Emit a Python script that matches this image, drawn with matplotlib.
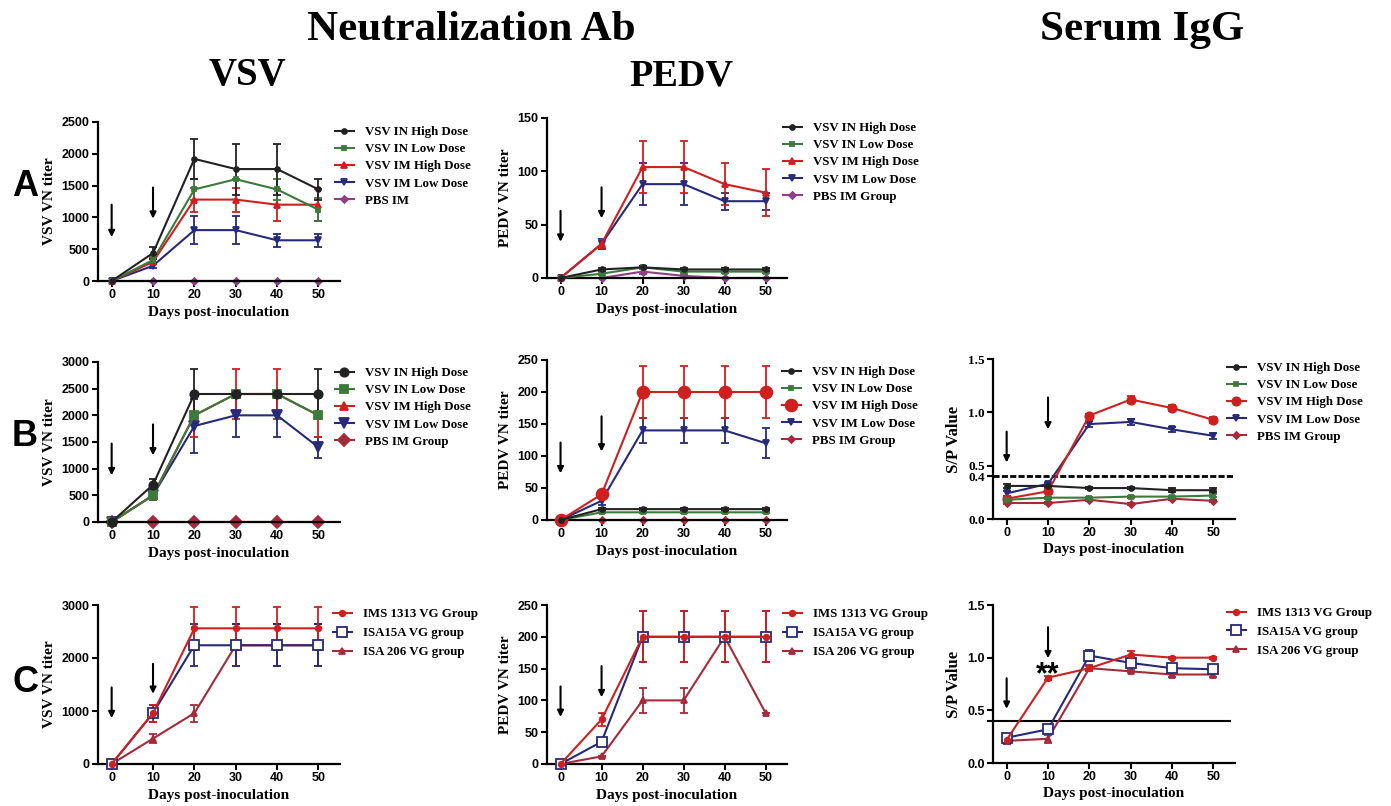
import matplotlib
matplotlib.use("Agg")
import matplotlib.pyplot as plt

W, H = 1391, 806
SERIF = "Liberation Serif"
SANS = "Liberation Sans"

days = [0, 10, 20, 30, 40, 50]

# ---------------- Row A : VSV VN titer ----------------
a_vsv_in_high = [0, 440, 1920, 1760, 1760, 1440]
a_vsv_in_high_err = [0, 100, 320, 400, 400, 160]
a_vsv_in_low = [0, 330, 1440, 1600, 1440, 1120]
a_vsv_in_low_err = [0, 40, 160, 0, 160, 180]
a_vsv_im_high = [0, 300, 1280, 1280, 1200, 1200]
a_vsv_im_high_err = [0, 40, 190, 190, 250, 250]
a_vsv_im_low = [0, 240, 800, 800, 640, 640]
a_vsv_im_low_err = [0, 40, 220, 220, 100, 100]
a_vsv_pbs = [0, 0, 0, 0, 0, 0]
a_vsv_pbs_err = [0, 0, 0, 0, 0, 0]

# ---------------- Row A : PEDV VN titer ----------------
a_pedv_in_high = [0, 8, 10, 8, 8, 8]
a_pedv_in_high_err = [0, 1, 1, 1, 1, 1]
a_pedv_in_low = [0, 4, 10, 6, 6, 6]
a_pedv_in_low_err = [0, 1, 1, 1, 1, 1]
a_pedv_im_high = [0, 32, 104, 104, 88, 80]
a_pedv_im_high_err = [0, 4, 24, 24, 20, 22]
a_pedv_im_low = [0, 32, 88, 88, 72, 72]
a_pedv_im_low_err = [0, 5, 20, 20, 8, 8]
a_pedv_pbs = [0, 0, 6, 2, 0, 0]
a_pedv_pbs_err = [0, 0, 2, 1, 0, 0]

# ---------------- Row B : VSV VN titer ----------------
b_vsv_in_high = [0, 700, 2400, 2400, 2400, 2400]
b_vsv_in_high_err = [0, 100, 460, 0, 0, 460]
b_vsv_in_low = [0, 500, 2000, 2400, 2400, 2000]
b_vsv_in_low_err = [0, 80, 0, 0, 0, 0]
b_vsv_im_high = [0, 500, 2000, 2400, 2400, 2000]
b_vsv_im_high_err = [0, 80, 400, 460, 460, 400]
b_vsv_im_low = [0, 500, 1800, 2000, 2000, 1400]
b_vsv_im_low_err = [0, 80, 500, 400, 400, 200]
b_vsv_pbs = [0, 0, 0, 0, 0, 0]
b_vsv_pbs_err = [0, 0, 0, 0, 0, 0]

# ---------------- Row B : PEDV VN titer ----------------
b_pedv_in_high = [0, 17, 17, 17, 17, 17]
b_pedv_in_high_err = [0, 1.5, 1.5, 1.5, 1.5, 1.5]
b_pedv_in_low = [0, 12, 12, 12, 12, 12]
b_pedv_in_low_err = [0, 1.5, 1.5, 1.5, 1.5, 1.5]
b_pedv_im_high = [0, 40, 200, 200, 200, 200]
b_pedv_im_high_err = [0, 2, 40, 40, 40, 40]
b_pedv_im_low = [0, 30, 140, 140, 140, 120]
b_pedv_im_low_err = [0, 6, 20, 20, 20, 23]
b_pedv_pbs = [0, 0, 0, 0, 0, 0]
b_pedv_pbs_err = [0, 0, 0, 0, 0, 0]

# ---------------- Row B : Serum IgG S/P ----------------
b_igg_in_high = [0.31, 0.31, 0.29, 0.29, 0.27, 0.27]
b_igg_in_high_err = [0.02, 0.01, 0.01, 0.01, 0.02, 0.02]
b_igg_in_low = [0.18, 0.20, 0.20, 0.21, 0.21, 0.22]
b_igg_in_low_err = [0.01, 0.01, 0.01, 0.01, 0.01, 0.01]
b_igg_im_high = [0.19, 0.26, 0.97, 1.12, 1.04, 0.93]
b_igg_im_high_err = [0.02, 0.02, 0.01, 0.03, 0.03, 0.03]
b_igg_im_low = [0.24, 0.33, 0.89, 0.91, 0.84, 0.78]
b_igg_im_low_err = [0.02, 0.01, 0.03, 0.03, 0.02, 0.03]
b_igg_pbs = [0.15, 0.15, 0.18, 0.14, 0.19, 0.17]
b_igg_pbs_err = [0.01, 0.01, 0.01, 0.01, 0.01, 0.01]

# ---------------- Row C : VSV VN titer ----------------
c_vsv_ims = [0, 960, 2560, 2560, 2560, 2560]
c_vsv_ims_err = [0, 160, 400, 400, 400, 400]
c_vsv_isa15a = [0, 960, 2240, 2240, 2240, 2240]
c_vsv_isa15a_err = [0, 160, 400, 400, 400, 400]
c_vsv_isa206 = [0, 480, 960, 2240, 2240, 2240]
c_vsv_isa206_err = [0, 80, 160, 400, 400, 400]

# ---------------- Row C : PEDV VN titer ----------------
c_pedv_ims = [0, 70, 200, 200, 200, 200]
c_pedv_ims_err = [0, 10, 40, 40, 40, 40]
c_pedv_isa15a = [0, 35, 200, 200, 200, 200]
c_pedv_isa15a_err = [0, 3, 40, 40, 0, 40]
c_pedv_isa206 = [0, 12, 100, 100, 200, 80]
c_pedv_isa206_err = [0, 1, 20, 20, 40, 0]

# ---------------- Row C : Serum IgG S/P ----------------
c_igg_ims = [0.22, 0.81, 0.90, 1.03, 1.00, 1.00]
c_igg_ims_err = [0.02, 0.02, 0.02, 0.03, 0.01, 0.01]
c_igg_isa15a = [0.24, 0.32, 1.02, 0.95, 0.90, 0.89]
c_igg_isa15a_err = [0.03, 0.01, 0.05, 0.01, 0.02, 0.02]
c_igg_isa206 = [0.21, 0.23, 0.90, 0.87, 0.84, 0.84]
c_igg_isa206_err = [0.03, 0.04, 0.03, 0.01, 0.02, 0.02]

labels_ab = ["VSV IN High Dose", "VSV IN Low Dose", "VSV IM High Dose",
             "VSV IM Low Dose"]
labels_c = ["IMS 1313 VG Group", "ISA15A VG group", "ISA 206 VG group"]

BLACK = "#222222"
GREEN = "#3c7a3c"
RED = "#d01f1f"
NAVY = "#262a78"
PURPLE = "#8e3f86"
CRIMSON = "#a52a3a"

fig = plt.figure(figsize=(W / 100, H / 100), dpi=100)


def px_axes(l, t, r, b):
    return fig.add_axes([l / W, 1 - b / H, (r - l) / W, (b - t) / H])


def style(ax, ymax, yticks, ylabel, ytick_font=SANS, yticklabels=None,
          ylabel_size=11):
    ax.set_xlim(-3.3, 55.2)
    ax.set_ylim(0, ymax)
    for s in ("top", "right"):
        ax.spines[s].set_visible(False)
    for s in ("left", "bottom"):
        ax.spines[s].set_linewidth(1.6)
        ax.spines[s].set_color("black")
    ax.set_xticks(days)
    ax.set_yticks(yticks)
    if yticklabels is not None:
        ax.set_yticklabels(yticklabels)
    ax.tick_params(direction="out", length=4, width=1.5, pad=2)
    for t in ax.get_xticklabels():
        t.set_fontfamily(SANS)
        t.set_fontweight("bold")
        t.set_fontsize(9)
    for t in ax.get_yticklabels():
        t.set_fontfamily(ytick_font)
        t.set_fontweight("bold")
        t.set_fontsize(9 if ytick_font == SANS else 9.5)
    ax.set_xlabel("Days post-inoculation", fontfamily=SERIF, fontweight="bold",
                  fontsize=11, labelpad=3)
    ax.set_ylabel(ylabel, fontfamily=SERIF, fontweight="bold",
                  fontsize=ylabel_size, labelpad=4)


def series(ax, y, err, color, marker, ms, label, mfc=None, z=3):
    c = ax.errorbar(days, y, yerr=err, color=color, marker=marker, ms=ms,
                    mfc=mfc if mfc else color, mec=color, mew=1.3, lw=1.5,
                    elinewidth=1.3, capsize=3.2, capthick=1.3,
                    zorder=z, clip_on=False)
    return (c.lines[0], label)


def arrows(ax, spec):
    for x, ytop, ytip in spec:
        ax.annotate("", xy=(x, ytip), xytext=(x, ytop),
                    arrowprops=dict(arrowstyle="-|>", lw=1.5, color="black",
                                    mutation_scale=9, shrinkA=0, shrinkB=0))


def legend(ax, entries, left, top, spacing=0.4):
    handles = [e[0] for e in entries]
    labels = [e[1] for e in entries]
    ax.legend(handles, labels, loc="upper left",
              bbox_to_anchor=(left / W, 1 - top / H),
              bbox_transform=fig.transFigure, frameon=False, borderpad=0,
              borderaxespad=0, handlelength=1.45, handletextpad=0.85,
              labelspacing=spacing,
              prop=dict(family=SERIF, weight="bold", size=9.3))


# ===== Row A VSV =====
ax = px_axes(98, 122, 340, 281)
e5 = series(ax, a_vsv_pbs, a_vsv_pbs_err, PURPLE, "D", 3.5, "PBS IM", z=2)
e4 = series(ax, a_vsv_im_low, a_vsv_im_low_err, NAVY, "v", 4, labels_ab[3])
e3 = series(ax, a_vsv_im_high, a_vsv_im_high_err, RED, "^", 4, labels_ab[2])
e2 = series(ax, a_vsv_in_low, a_vsv_in_low_err, GREEN, "s", 3.5, labels_ab[1])
e1 = series(ax, a_vsv_in_high, a_vsv_in_high_err, BLACK, "o", 3.5, labels_ab[0])
style(ax, 2500, [0, 500, 1000, 1500, 2000, 2500], "VSV VN titer")
arrows(ax, [(0, 1200, 690), (10, 1470, 980)])
legend(ax, [e1, e2, e3, e4, e5], 335, 126)

# ===== Row A PEDV =====
ax = px_axes(547, 118, 787, 278)
e5 = series(ax, a_pedv_pbs, a_pedv_pbs_err, PURPLE, "D", 3.5, "PBS IM Group", z=2)
e4 = series(ax, a_pedv_im_low, a_pedv_im_low_err, NAVY, "v", 4, labels_ab[3])
e3 = series(ax, a_pedv_im_high, a_pedv_im_high_err, RED, "^", 4, labels_ab[2])
e2 = series(ax, a_pedv_in_low, a_pedv_in_low_err, GREEN, "s", 3.5, labels_ab[1])
e1 = series(ax, a_pedv_in_high, a_pedv_in_high_err, BLACK, "o", 3.5, labels_ab[0])
style(ax, 150, [0, 50, 100, 150], "PEDV VN titer")
arrows(ax, [(0, 63, 34), (10, 85, 56)])
legend(ax, [e1, e2, e3, e4, e5], 783, 122)

# ===== Row B VSV =====
ax = px_axes(98, 362, 340, 522)
e5 = series(ax, b_vsv_pbs, b_vsv_pbs_err, CRIMSON, "D", 6, "PBS IM Group", z=2)
e4 = series(ax, b_vsv_im_low, b_vsv_im_low_err, NAVY, "v", 6.5, labels_ab[3])
e3 = series(ax, b_vsv_im_high, b_vsv_im_high_err, RED, "^", 6, labels_ab[2])
e2 = series(ax, b_vsv_in_low, b_vsv_in_low_err, GREEN, "s", 5.5, labels_ab[1])
e1 = series(ax, b_vsv_in_high, b_vsv_in_high_err, BLACK, "o", 6, labels_ab[0])
style(ax, 3000, [0, 500, 1000, 1500, 2000, 2500, 3000], "VSV VN titer")
arrows(ax, [(0, 1470, 875), (10, 1830, 1250)])
legend(ax, [e1, e2, e3, e4, e5], 335, 367)

# ===== Row B PEDV =====
ax = px_axes(547, 360, 787, 520)
e5 = series(ax, b_pedv_pbs, b_pedv_pbs_err, CRIMSON, "D", 3.5, "PBS IM Group", z=2)
e4 = series(ax, b_pedv_im_low, b_pedv_im_low_err, NAVY, "v", 4.5, labels_ab[3])
e3 = series(ax, b_pedv_im_high, b_pedv_im_high_err, RED, "o", 8.5, labels_ab[2])
e2 = series(ax, b_pedv_in_low, b_pedv_in_low_err, GREEN, "s", 3.5, labels_ab[1])
e1 = series(ax, b_pedv_in_high, b_pedv_in_high_err, BLACK, "o", 3.5, labels_ab[0])
style(ax, 250, [0, 50, 100, 150, 200, 250], "PEDV VN titer")
arrows(ax, [(0, 121, 73), (10, 162, 107)])
legend(ax, [e1, e2, e3, e4, e5], 782, 366)

# ===== Row B Serum IgG =====
ax = px_axes(993, 359, 1235, 519)
e5 = series(ax, b_igg_pbs, b_igg_pbs_err, CRIMSON, "D", 3.5, "PBS IM Group", z=2)
e4 = series(ax, b_igg_im_low, b_igg_im_low_err, NAVY, "v", 4.5, labels_ab[3])
e3 = series(ax, b_igg_im_high, b_igg_im_high_err, RED, "o", 6, labels_ab[2])
e2 = series(ax, b_igg_in_low, b_igg_in_low_err, GREEN, "s", 3.5, labels_ab[1])
e1 = series(ax, b_igg_in_high, b_igg_in_high_err, BLACK, "o", 3.5, labels_ab[0])
style(ax, 1.5, [0.0, 0.4, 0.5, 1.0, 1.5], "S/P Value", ytick_font=SERIF,
      yticklabels=["0.0", "0.4", "0.5", "1.0", "1.5"], ylabel_size=12)
ax.axhline(0.4, color="black", lw=2, ls=(0, (2.2, 0.8)), zorder=1)
arrows(ax, [(0, 0.82, 0.53), (10, 1.14, 0.84)])
legend(ax, [e1, e2, e3, e4, e5], 1227, 362)

# ===== Row C VSV =====
ax = px_axes(98, 605, 340, 764)
e3 = series(ax, c_vsv_isa206, c_vsv_isa206_err, CRIMSON, "^", 4, labels_c[2])
e2 = series(ax, c_vsv_isa15a, c_vsv_isa15a_err, NAVY, "s", 6.5, labels_c[1], mfc="white")
e1 = series(ax, c_vsv_ims, c_vsv_ims_err, RED, "o", 4, labels_c[0])
style(ax, 3000, [0, 1000, 2000, 3000], "VSV VN titer")
arrows(ax, [(0, 1444, 866), (10, 1890, 1325)])
legend(ax, [e1, e2, e3], 333, 608, spacing=0.55)

# ===== Row C PEDV =====
ax = px_axes(547, 605, 787, 764)
e3 = series(ax, c_pedv_isa206, c_pedv_isa206_err, CRIMSON, "^", 4, labels_c[2])
e2 = series(ax, c_pedv_isa15a, c_pedv_isa15a_err, NAVY, "s", 6.5, labels_c[1], mfc="white")
e1 = series(ax, c_pedv_ims, c_pedv_ims_err, RED, "o", 4, labels_c[0])
style(ax, 250, [0, 50, 100, 150, 200, 250], "PEDV VN titer")
arrows(ax, [(0, 122, 74), (10, 154, 105)])
legend(ax, [e1, e2, e3], 783, 608, spacing=0.55)

# ===== Row C Serum IgG =====
ax = px_axes(993, 605, 1235, 763)
e3 = series(ax, c_igg_isa206, c_igg_isa206_err, CRIMSON, "^", 4, labels_c[2])
e2 = series(ax, c_igg_isa15a, c_igg_isa15a_err, NAVY, "s", 6.5, labels_c[1], mfc="white")
e1 = series(ax, c_igg_ims, c_igg_ims_err, RED, "o", 4, labels_c[0])
style(ax, 1.5, [0.0, 0.5, 1.0, 1.5], "S/P Value",
      yticklabels=["0.0", "0.5", "1.0", "1.5"], ylabel_size=12)
ax.axhline(0.4, xmin=-0.02, xmax=0.98, color="black", lw=1.5, zorder=1, clip_on=False)
arrows(ax, [(0, 0.805, 0.515), (10, 1.29, 0.995)])
ax.text(10, 0.76, "**", ha="center", va="baseline", fontsize=22,
        fontweight="bold", fontfamily=SANS)
legend(ax, [e1, e2, e3], 1227, 607, spacing=0.52)

# ===== Headings =====
fig.text(471 / W, 1 - 30 / H, "Neutralization Ab", ha="center", va="center",
         fontfamily=SERIF, fontweight="bold", fontsize=31)
fig.text(1142 / W, 1 - 30 / H, "Serum IgG", ha="center", va="center",
         fontfamily=SERIF, fontweight="bold", fontsize=31)
fig.text(247 / W, 1 - 76 / H, "VSV", ha="center", va="center",
         fontfamily=SERIF, fontweight="bold", fontsize=28)
fig.text(681 / W, 1 - 76 / H, "PEDV", ha="center", va="center",
         fontfamily=SERIF, fontweight="bold", fontsize=27.5)
for letter, yc in (("A", 186), ("B", 437), ("C", 683)):
    fig.text(25 / W, 1 - yc / H, letter, ha="center", va="center",
             fontfamily=SANS, fontweight="bold", fontsize=26)

fig.savefig("out.png", dpi=100)
